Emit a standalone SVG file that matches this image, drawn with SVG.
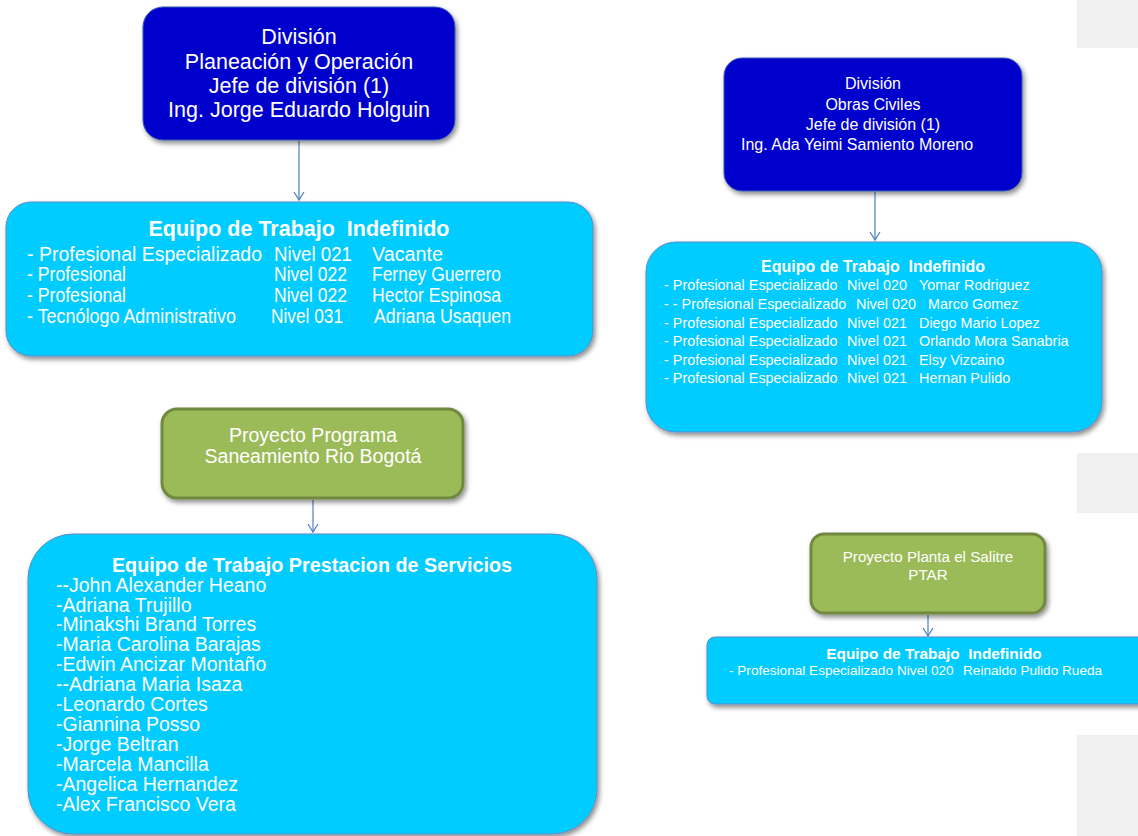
<svg xmlns="http://www.w3.org/2000/svg" width="1138" height="836" viewBox="0 0 1138 836">
<style>
text{font-family:"Liberation Sans",Arial,sans-serif;fill:#ffffff;white-space:pre}
.b{font-weight:bold}
.m{text-anchor:middle}
.navy{fill:#0000CC;stroke:#3b5fb0;stroke-width:1}
.cyan{fill:#00CCFF;stroke:#5b8bc8;stroke-width:1}
.green{fill:#9BBB59;stroke:#71893F;stroke-width:3}
.gray{fill:#F0F0F0}
.conn{stroke:#4F81BD;stroke-width:1.2;fill:none}
</style>
<defs>
<filter id="sh" x="-10%" y="-10%" width="125%" height="130%">
<feGaussianBlur in="SourceAlpha" stdDeviation="2.5"/>
<feOffset dx="2" dy="3" result="o"/>
<feComponentTransfer><feFuncA type="linear" slope="0.45"/></feComponentTransfer>
<feMerge><feMergeNode/><feMergeNode in="SourceGraphic"/></feMerge>
</filter>
<marker id="arr" markerUnits="userSpaceOnUse" markerWidth="16" markerHeight="16" viewBox="-8 -8 16 16" refX="0" refY="0" orient="auto">
<path d="M-8,-5 L0,0 L-8,5" fill="none" stroke="#4F81BD" stroke-width="1.2"/>
</marker>
</defs>
<rect width="1138" height="836" fill="#ffffff"/>
<g id="bg">
<rect class="gray" x="1077" y="0" width="61" height="48"/>
<rect class="gray" x="1077" y="453" width="61" height="60"/>
<rect class="gray" x="1077" y="735" width="61" height="101"/>
</g>
<g id="connectors">
<line class="conn" x1="299" y1="141" x2="299" y2="200" marker-end="url(#arr)"/>
<line class="conn" x1="875" y1="192" x2="875" y2="240" marker-end="url(#arr)"/>
<line class="conn" x1="313" y1="500" x2="313" y2="532" marker-end="url(#arr)"/>
<line class="conn" x1="928" y1="615" x2="928" y2="636" marker-end="url(#arr)"/>
</g>
<g id="div-planeacion">
<rect class="navy" x="143" y="7" width="312" height="133" rx="20" filter="url(#sh)"/>
<text class="m" x="299" y="44" font-size="21.5">División</text>
<text class="m" x="299" y="69" font-size="21.5">Planeación y Operación</text>
<text class="m" x="299" y="93" font-size="21.5">Jefe de división (1)</text>
<text class="m" x="299" y="117" font-size="21.5">Ing. Jorge Eduardo Holguin</text>
</g>
<g id="equipo-planeacion">
<rect class="cyan" x="6" y="202" width="587" height="154" rx="25" filter="url(#sh)"/>
<text class="m b" x="299" y="236" font-size="21.5">Equipo de Trabajo  Indefinido</text>
<g font-size="19.5">
<text x="27" y="261" textLength="235" lengthAdjust="spacingAndGlyphs">- Profesional Especializado</text><text x="274" y="261" textLength="78" lengthAdjust="spacingAndGlyphs">Nivel 021</text><text x="372" y="261" textLength="71" lengthAdjust="spacingAndGlyphs">Vacante</text>
<text x="27" y="281" textLength="99" lengthAdjust="spacingAndGlyphs">- Profesional</text><text x="274" y="281" textLength="73" lengthAdjust="spacingAndGlyphs">Nivel 022</text><text x="372" y="281" textLength="129" lengthAdjust="spacingAndGlyphs">Ferney Guerrero</text>
<text x="27" y="302" textLength="99" lengthAdjust="spacingAndGlyphs">- Profesional</text><text x="274" y="302" textLength="73" lengthAdjust="spacingAndGlyphs">Nivel 022</text><text x="372" y="302" textLength="129" lengthAdjust="spacingAndGlyphs">Hector Espinosa</text>
<text x="27" y="323" textLength="209" lengthAdjust="spacingAndGlyphs">- Tecnólogo Administrativo</text><text x="271" y="323" textLength="72" lengthAdjust="spacingAndGlyphs">Nivel 031</text><text x="374" y="323" textLength="137" lengthAdjust="spacingAndGlyphs">Adriana Usaquen</text>
</g>
</g>
<g id="proyecto-rio">
<rect class="green" x="162" y="409" width="301" height="89" rx="15" filter="url(#sh)"/>
<text class="m" x="313" y="442" font-size="19.5">Proyecto Programa</text>
<text class="m" x="313" y="463" font-size="19.5">Saneamiento Rio Bogotá</text>
</g>
<g id="equipo-prestacion">
<rect class="cyan" x="28" y="534" width="569" height="300" rx="45" filter="url(#sh)"/>
<text class="m b" x="312" y="572" font-size="19.8">Equipo de Trabajo Prestacion de Servicios</text>
<g font-size="19.5">
<text x="56" y="592">--John Alexander Heano</text>
<text x="56" y="612">-Adriana Trujillo</text>
<text x="56" y="631">-Minakshi Brand Torres</text>
<text x="56" y="651">-Maria Carolina Barajas</text>
<text x="56" y="671">-Edwin Ancizar Montaño</text>
<text x="56" y="691">--Adriana Maria Isaza</text>
<text x="56" y="711">-Leonardo Cortes</text>
<text x="56" y="731">-Giannina Posso</text>
<text x="56" y="751">-Jorge Beltran</text>
<text x="56" y="771">-Marcela Mancilla</text>
<text x="56" y="791">-Angelica Hernandez</text>
<text x="56" y="811">-Alex Francisco Vera</text>
</g>
</g>
<g id="div-obras">
<rect class="navy" x="724" y="58" width="298" height="133" rx="18" filter="url(#sh)"/>
<text class="m" x="873" y="89" font-size="16">División</text>
<text class="m" x="873" y="110" font-size="16">Obras Civiles</text>
<text class="m" x="873" y="130" font-size="16">Jefe de división (1)</text>
<text x="741" y="150" font-size="16">Ing. Ada Yeimi Samiento Moreno</text>
</g>
<g id="equipo-obras">
<rect class="cyan" x="646" y="242" width="456" height="190" rx="30" filter="url(#sh)"/>
<text class="m b" x="873" y="272" font-size="16">Equipo de Trabajo  Indefinido</text>
<g font-size="14.4">
<text x="664" y="290">- Profesional Especializado</text><text x="847" y="290">Nivel 020</text><text x="919" y="290">Yomar Rodriguez</text>
<text x="664" y="309">- - Profesional Especializado</text><text x="856" y="309">Nivel 020</text><text x="928" y="309">Marco Gomez</text>
<text x="664" y="328">- Profesional Especializado</text><text x="847" y="328">Nivel 021</text><text x="919" y="328">Diego Mario Lopez</text>
<text x="664" y="346">- Profesional Especializado</text><text x="847" y="346">Nivel 021</text><text x="919" y="346">Orlando Mora Sanabria</text>
<text x="664" y="365">- Profesional Especializado</text><text x="847" y="365">Nivel 021</text><text x="919" y="365">Elsy Vizcaino</text>
<text x="664" y="383">- Profesional Especializado</text><text x="847" y="383">Nivel 021</text><text x="919" y="383">Hernan Pulido</text>
</g>
</g>
<g id="proyecto-salitre">
<rect class="green" x="811" y="534" width="234" height="79" rx="13" filter="url(#sh)"/>
<text class="m" x="928" y="562" font-size="15.2">Proyecto Planta el Salitre</text>
<text class="m" x="928" y="580" font-size="15.2">PTAR</text>
</g>
<g id="equipo-salitre">
<rect class="cyan" x="707" y="637" width="445" height="67" rx="8" filter="url(#sh)"/>
<text class="m b" x="934" y="659" font-size="15.4">Equipo de Trabajo  Indefinido</text>
<g font-size="13.6">
<text x="729" y="675">- Profesional Especializado</text><text x="897" y="675">Nivel 020</text><text x="963" y="675">Reinaldo Pulido Rueda</text>
</g>
</g>
</svg>
